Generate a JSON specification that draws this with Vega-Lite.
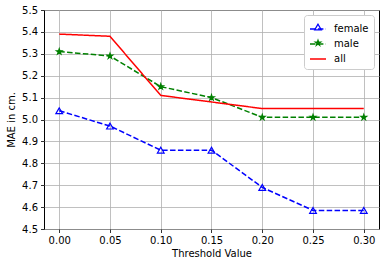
{
  "$schema": "https://vega.github.io/schema/vega-lite/v6.json",
  "width": 335,
  "height": 219,
  "autosize": {"type": "none"},
  "padding": {"left": 44, "top": 10, "right": 7, "bottom": 37},
  "config": {
    "font": "DejaVu Sans",
    "view": {"stroke": "#000000", "strokeWidth": 1},
    "axis": {
      "domain": false,
      "grid": true,
      "gridColor": "#b0b0b0",
      "gridWidth": 0.8,
      "tickColor": "#000000",
      "tickSize": 3.5,
      "tickWidth": 0.8,
      "labelColor": "#000000",
      "labelFontSize": 10,
      "labelPadding": 3,
      "titleFontSize": 10,
      "titleFontWeight": "normal",
      "titleColor": "#000000"
    }
  },
  "data": {
    "values": [
      {"t": 0.0, "mae": 5.04, "series": "female"},
      {"t": 0.05, "mae": 4.97, "series": "female"},
      {"t": 0.1, "mae": 4.86, "series": "female"},
      {"t": 0.15, "mae": 4.86, "series": "female"},
      {"t": 0.2, "mae": 4.69, "series": "female"},
      {"t": 0.25, "mae": 4.585, "series": "female"},
      {"t": 0.3, "mae": 4.585, "series": "female"},
      {"t": 0.0, "mae": 5.31, "series": "male"},
      {"t": 0.05, "mae": 5.29, "series": "male"},
      {"t": 0.1, "mae": 5.15, "series": "male"},
      {"t": 0.15, "mae": 5.10, "series": "male"},
      {"t": 0.2, "mae": 5.01, "series": "male"},
      {"t": 0.25, "mae": 5.01, "series": "male"},
      {"t": 0.3, "mae": 5.01, "series": "male"},
      {"t": 0.0, "mae": 5.39, "series": "all"},
      {"t": 0.05, "mae": 5.38, "series": "all"},
      {"t": 0.1, "mae": 5.11, "series": "all"},
      {"t": 0.15, "mae": 5.08, "series": "all"},
      {"t": 0.2, "mae": 5.05, "series": "all"},
      {"t": 0.25, "mae": 5.05, "series": "all"},
      {"t": 0.3, "mae": 5.05, "series": "all"}
    ]
  },
  "encoding": {
    "x": {
      "field": "t", "type": "quantitative",
      "scale": {"domain": [-0.015, 0.315], "nice": false, "zero": false},
      "axis": {"title": "Threshold Value", "values": [0, 0.05, 0.1, 0.15, 0.2, 0.25, 0.3], "format": ".2f", "titlePadding": 3}
    },
    "y": {
      "field": "mae", "type": "quantitative",
      "scale": {"domain": [4.5, 5.5], "nice": false, "zero": false},
      "axis": {"title": "MAE in cm.", "values": [4.5, 4.6, 4.7, 4.8, 4.9, 5.0, 5.1, 5.2, 5.3, 5.4, 5.5], "format": ".1f", "titlePadding": 5}
    }
  },
  "layer": [
    {
      "mark": {"type": "line", "strokeWidth": 1.5},
      "encoding": {
        "color": {
          "field": "series", "type": "nominal",
          "scale": {"domain": ["female", "male", "all"], "range": ["#0000ff", "#008000", "#ff0000"]},
          "legend": {
            "title": null, "orient": "none", "legendX": 260, "legendY": 5,
            "symbolType": "stroke", "symbolSize": 256, "symbolStrokeWidth": 1.5,
            "labelFontSize": 10, "labelColor": "#000000", "labelOffset": 7,
            "rowPadding": 1, "padding": 5,
            "fillColor": "#ffffff", "strokeColor": "#cccccc", "cornerRadius": 3
          }
        },
        "strokeDash": {
          "field": "series", "type": "nominal",
          "scale": {"domain": ["female", "male", "all"], "range": [[5.5, 2.4], [5.5, 2.4], [1, 0]]}
        }
      }
    },
    {
      "transform": [{"filter": "datum.series !== 'all'"}],
      "mark": {"type": "point", "strokeWidth": 1.2, "opacity": 1},
      "encoding": {
        "shape": {
          "field": "series", "type": "nominal",
          "scale": {"domain": ["female", "male"], "range": ["triangle-up", "M0,-0.85L0.19,-0.26L0.81,-0.26L0.31,0.1L0.5,0.69L0,0.32L-0.5,0.69L-0.31,0.1L-0.81,-0.26L-0.19,-0.26Z"]},
          "legend": {
            "title": null, "orient": "none", "legendX": 264, "legendY": 7,
            "symbolSize": 45, "symbolStrokeWidth": 1.2,
            "labelFontSize": 10, "labelExpr": "''", "labelOffset": 7,
            "rowPadding": 4, "padding": 5,
            "fillColor": null, "strokeColor": null
          }
        },
        "stroke": {
          "field": "series", "type": "nominal",
          "scale": {"domain": ["female", "male"], "range": ["#0000ff", "#008000"]},
          "legend": null
        },
        "fill": {
          "field": "series", "type": "nominal",
          "scale": {"domain": ["female", "male"], "range": ["transparent", "#008000"]},
          "legend": null
        },
        "size": {"value": 45}
      }
    }
  ]
}
